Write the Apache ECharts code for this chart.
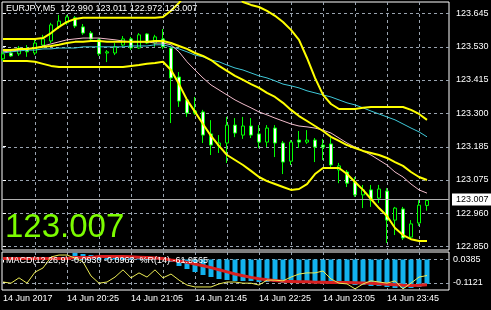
<!DOCTYPE html>
<html><head><meta charset="utf-8">
<script src="https://cdn.jsdelivr.net/npm/echarts@6/dist/echarts.min.js"></script>
<style>html,body{margin:0;padding:0;background:#000;}#c{width:491px;height:310px;}</style>
</head><body><div id="c"></div>
<script>
const symbolName = 'EURJPY,M5';
const timeLabels = ['14 Jun 2017','14 Jun 20:25','14 Jun 21:05','14 Jun 21:45','14 Jun 22:25','14 Jun 23:05','14 Jun 23:45'];
const timeLabelIndex = [0,8,16,24,32,40,48];
const vGridIndex = [4,8,12,16,20,24,28,32,36,40,44,48,52];

const open = [123.490,123.510,123.507,123.524,123.510,123.537,123.551,123.599,123.613,123.630,
 123.599,123.578,123.555,123.510,123.510,123.537,123.558,123.527,123.575,123.544,
 123.558,123.527,123.428,123.350,123.305,123.309,123.234,123.193,123.203,123.264,
 123.230,123.261,123.234,123.206,123.254,123.203,123.141,123.213,123.206,123.213,
 123.196,123.200,123.111,123.104,123.070,123.026,123.043,123.015,123.039,122.940,
 122.978,122.882,122.930,122.990];
const close = [123.507,123.500,123.527,123.514,123.544,123.558,123.606,123.619,123.633,123.602,
 123.578,123.558,123.507,123.514,123.531,123.558,123.527,123.572,123.544,123.565,
 123.531,123.425,123.346,123.305,123.312,123.230,123.196,123.203,123.264,123.237,
 123.261,123.230,123.206,123.254,123.203,123.138,123.206,123.206,123.213,123.189,
 123.189,123.128,123.125,123.066,123.026,123.043,123.008,123.046,122.940,122.981,
 122.879,122.927,122.991,123.007];
const low = [123.483,123.497,123.500,123.497,123.503,123.531,123.544,123.592,123.606,123.595,
 123.572,123.548,123.500,123.479,123.503,123.531,123.520,123.524,123.541,123.531,
 123.524,123.271,123.326,123.292,123.299,123.203,123.162,123.169,123.135,123.223,
 123.217,123.220,123.186,123.189,123.155,123.097,123.128,123.186,123.200,123.138,
 123.145,123.121,123.066,123.053,123.019,122.981,122.985,122.998,122.862,122.889,
 122.872,122.872,122.920,122.972];
const high = [123.517,123.517,123.534,123.537,123.555,123.572,123.613,123.640,123.640,123.636,
 123.609,123.585,123.561,123.520,123.544,123.568,123.565,123.578,123.578,123.572,
 123.592,123.531,123.445,123.360,123.360,123.316,123.281,123.230,123.292,123.288,
 123.292,123.288,123.264,123.264,123.264,123.210,123.213,123.244,123.247,123.220,
 123.217,123.220,123.135,123.111,123.087,123.060,123.060,123.060,123.049,122.985,
 122.985,122.940,123.008,123.011];

const bbUpper = [123.558,123.558,123.558,123.558,123.558,123.561,123.578,123.599,123.616,123.626,
 123.630,123.630,123.630,123.630,123.630,123.630,123.630,123.630,123.630,123.630,
 123.633,123.654,123.681,123.718,123.759,123.787,123.794,123.787,123.759,123.725,
 123.684,123.674,123.667,123.654,123.637,123.616,123.589,123.555,123.493,123.425,
 123.367,123.336,123.319,123.319,123.319,123.323,123.326,123.326,123.326,123.326,
 123.326,123.316,123.302,123.282];
const bbMiddle = [123.520,123.520,123.524,123.524,123.527,123.531,123.534,123.538,123.544,123.548,
 123.548,123.551,123.551,123.548,123.548,123.548,123.548,123.548,123.548,123.551,
 123.551,123.544,123.534,123.524,123.510,123.500,123.486,123.466,123.449,123.432,
 123.418,123.404,123.391,123.374,123.360,123.340,123.316,123.295,123.278,123.261,
 123.244,123.224,123.210,123.196,123.186,123.176,123.169,123.162,123.152,123.138,
 123.125,123.104,123.087,123.077];
const bbLower = [123.483,123.483,123.483,123.483,123.480,123.473,123.466,123.462,123.462,123.462,
 123.462,123.462,123.462,123.462,123.462,123.462,123.466,123.469,123.473,123.476,
 123.480,123.452,123.404,123.350,123.309,123.268,123.227,123.193,123.162,123.145,
 123.128,123.108,123.087,123.073,123.063,123.053,123.043,123.046,123.063,123.097,
 123.118,123.118,123.118,123.097,123.070,123.043,123.012,122.981,122.954,122.913,
 122.889,122.875,122.869,122.869];
const maSlow = [123.510,123.514,123.517,123.520,123.520,123.524,123.524,123.527,123.527,123.527,
 123.531,123.531,123.531,123.531,123.531,123.531,123.534,123.534,123.534,123.538,
 123.538,123.531,123.524,123.514,123.503,123.497,123.486,123.480,123.469,123.459,
 123.452,123.442,123.432,123.425,123.415,123.404,123.398,123.391,123.381,123.374,
 123.367,123.360,123.350,123.340,123.333,123.323,123.312,123.302,123.292,123.282,
 123.268,123.254,123.241,123.224];
const maFast = [123.514,123.517,123.520,123.524,123.527,123.534,123.541,123.548,123.555,123.558,
 123.561,123.561,123.561,123.558,123.555,123.551,123.548,123.548,123.548,123.544,
 123.544,123.538,123.514,123.480,123.452,123.425,123.401,123.384,123.367,123.350,
 123.336,123.323,123.309,123.299,123.288,123.278,123.268,123.261,123.258,123.254,
 123.247,123.237,123.220,123.203,123.189,123.176,123.162,123.145,123.128,123.104,
 123.087,123.063,123.043,123.032];

const macdMain = [0.001,0.001,0.001,0.002,0.002,0.003,0.004,0.005,0.006,0.025,
 0.021,0.017,0.013,0.010,0.008,0.008,0.007,0.008,0.007,0.006,
 0.004,-0.0095,-0.0247,-0.0361,-0.0475,-0.0589,-0.0665,-0.0741,-0.0779,-0.0817,
 -0.0817,-0.0817,-0.0855,-0.0855,-0.0855,-0.0893,-0.0855,-0.0855,-0.0855,-0.0855,
 -0.0893,-0.0893,-0.0893,-0.0931,-0.0969,-0.0969,-0.1007,-0.1007,-0.1045,-0.1083,
 -0.1083,-0.1083,-0.1045,-0.0930];
const macdSignal = [0.004,0.004,0.004,0.004,0.004,0.004,0.004,0.004,0.004,0.008,
 0.008,0.008,0.011,0.011,0.011,0.011,0.010,0.009,0.008,0.006,
 0.004,-0.002,-0.006,-0.011,-0.017,-0.024,-0.031,-0.039,-0.047,-0.055,
 -0.062,-0.068,-0.073,-0.077,-0.080,-0.083,-0.084,-0.085,-0.085,-0.086,
 -0.086,-0.087,-0.087,-0.087,-0.088,-0.089,-0.090,-0.092,-0.094,-0.096,
 -0.098,-0.099,-0.098,-0.0963];
const wpr = [-79,-82,-68,-82,-53,-42,-13,-8,-8,-16,
 -26,-63,-82,-79,-66,-47,-68,-55,-66,-47,
 -68,-58,-74,-87,-92,-92,-92,-84,-79,-79,
 -82,-82,-87,-74,-74,-76,-66,-58,-55,-55,
 -50,-71,-82,-84,-97,-84,-76,-79,-82,-76,
 -97,-82,-66,-61.9565];

const priceTickValues = [123.645,123.5314,123.4179,123.3043,123.1907,123.0771,122.9636,122.850];
const priceTickLabels = ['123.645','123.530','123.415','123.300','123.185','123.075','122.960','122.850'];
const subTickValues = [0,-0.0874];
const subTickLabels = ['0.0385','-0.1121'];

const FONT = 'Liberation Sans, Arial, sans-serif';
const GRIDC = '#9aa4b0';
const X_MIN = -0.125, X_MAX = 55.75;
const P_MIN = 122.838, P_MAX = 123.684;
const M_MIN = -0.1159, M_MAX = 0.0285;
const last = close.length - 1;
const pick = (vals, labs) => v => { let b = 0, d = Infinity; vals.forEach((x, k) => { const e = Math.abs(x - v); if (e < d) { d = e; b = k; } }); return labs[b]; };
const xy = arr => arr.map((v, i) => [i, v]);

const header = symbolName + '  ' + open[last].toFixed(3) + ' ' + high[last].toFixed(3) + ' ' + low[last].toFixed(3) + ' ' + close[last].toFixed(3);
const macdText = 'MACD(12,26,9) ' + macdMain[last].toFixed(4) + ' ' + macdSignal[last].toFixed(4) + '  %R(14) ' + wpr[last].toFixed(4);

// helper category axes (one step per pixel) whose split lines draw the dashed grid at the tick values
const W_STEPS = 447, H_MAIN = 248, H_SUB = 38;
const steps = n => Array.from({length: n + 1}, (_, j) => String(j));
const toStep = (v, lo, hi, n) => Math.round((v - lo) / (hi - lo) * n);
const vSet = new Set(vGridIndex.map(v => toStep(v, X_MIN, X_MAX, W_STEPS)));
const hMainSet = new Set(priceTickValues.map(v => toStep(v, P_MIN, P_MAX, H_MAIN)));
const hSubSet = new Set(subTickValues.map(v => toStep(v, M_MIN, M_MAX, H_SUB)));
const helperSplit = set => ({show: true, interval: (idx) => set.has(idx), lineStyle: {color: GRIDC, type: [3, 3], width: 1}});
const helperAxis = (type, gridIndex, n, set, extra) => Object.assign({
  type: 'category', gridIndex: gridIndex, data: steps(n), boundaryGap: false,
  axisLine: {show: false}, axisTick: {show: false}, axisLabel: {show: false},
  splitLine: helperSplit(set), z: 0
}, extra || {});

const chart = echarts.init(document.getElementById('c'), null, {renderer: 'canvas'});
const lineS = (data, color, width, z) => ({type: 'line', xAxisIndex: 0, yAxisIndex: 0, data: xy(data), showSymbol: false, symbol: 'none', silent: true, z: z, lineStyle: {color: color, width: width}, clip: true});

chart.setOption({
  animation: false,
  backgroundColor: '#000',
  textStyle: {fontFamily: FONT},
  title: [
    {text: header, left: 6, top: 4, padding: 0, z: 10, textStyle: {color: '#fff', fontSize: 9, fontWeight: 'normal', fontFamily: FONT}},
    {text: close[last].toFixed(3), left: 5, top: 211, padding: 0, z: 10, textStyle: {color: '#7cfc00', fontSize: 33, fontWeight: 'normal', fontFamily: FONT}},
    {text: macdText, left: 6, top: 256, padding: 0, z: 10, textStyle: {color: '#fff', fontSize: 9, fontWeight: 'normal', fontFamily: FONT}}
  ],
  grid: [
    {left: 2, top: 2, width: 447, height: 248, show: true, borderColor: '#fff', borderWidth: 1, backgroundColor: 'transparent', containLabel: false, outerBoundsMode: 'none'},
    {left: 2, top: 252, width: 447, height: 38, show: true, borderColor: '#fff', borderWidth: 1, backgroundColor: 'transparent', containLabel: false, outerBoundsMode: 'none'}
  ],
  xAxis: [
    {type: 'value', gridIndex: 0, min: X_MIN, max: X_MAX, show: false},
    {type: 'value', gridIndex: 1, min: X_MIN, max: X_MAX,
     axisLine: {show: false}, splitLine: {show: false},
     axisTick: {show: true, customValues: timeLabelIndex, length: 3, inside: false, lineStyle: {color: '#fff'}},
     axisLabel: {show: true, customValues: timeLabelIndex, formatter: pick(timeLabelIndex, timeLabels), align: 'left', color: '#fff', fontSize: 9, margin: 4, fontFamily: FONT}},
    helperAxis('x', 0, W_STEPS, vSet, {position: 'top'}),
    helperAxis('x', 1, W_STEPS, vSet, {position: 'top'})
  ],
  yAxis: [
    {type: 'value', gridIndex: 0, position: 'right', min: P_MIN, max: P_MAX, scale: true,
     axisLine: {show: false}, splitLine: {show: false},
     axisTick: {show: true, customValues: priceTickValues, length: 3, lineStyle: {color: '#fff'}},
     axisLabel: {show: true, customValues: priceTickValues, formatter: pick(priceTickValues, priceTickLabels), color: '#fff', fontSize: 9, margin: 7, fontFamily: FONT}},
    {type: 'value', gridIndex: 1, position: 'right', min: M_MIN, max: M_MAX,
     axisLine: {show: false}, splitLine: {show: false},
     axisTick: {show: true, customValues: subTickValues, length: 3, lineStyle: {color: '#fff'}},
     axisLabel: {show: true, customValues: subTickValues, formatter: pick(subTickValues, subTickLabels), color: '#fff', fontSize: 9, margin: 4, fontFamily: FONT}},
    {type: 'value', gridIndex: 1, min: -100, max: 0, show: false},
    helperAxis('y', 0, H_MAIN, hMainSet, {position: 'left'}),
    helperAxis('y', 1, H_SUB, hSubSet, {position: 'left'})
  ],
  series: [
    {type: 'candlestick', xAxisIndex: 0, yAxisIndex: 0, z: 3, silent: true, barWidth: 4,
     encode: {x: 0, y: [1, 2, 3, 4]},
     data: open.map((o, i) => [i, o, close[i], low[i], high[i]]),
     itemStyle: {color: '#000', color0: '#fff', borderColor: '#00ff00', borderColor0: '#00ff00', borderColorDoji: '#00ff00', borderWidth: 1},
     markLine: {silent: true, symbol: ['none', 'none'], animation: false,
       lineStyle: {color: '#b0b0b0', type: 'solid', width: 1},
       label: {show: true, position: 'end', distance: 3, formatter: close[last].toFixed(3), color: '#000', backgroundColor: '#fff', padding: [2, 3, 1, 4], fontSize: 9, fontFamily: FONT},
       data: [{yAxis: close[last]}]}},
    lineS(maSlow, '#3fc9d9', 1, 4),
    lineS(maFast, '#f2bccb', 1, 4),
    lineS(bbUpper, '#ffff00', 2, 5),
    lineS(bbMiddle, '#ffff00', 2, 5),
    lineS(bbLower, '#ffff00', 2, 5),
    {type: 'bar', xAxisIndex: 1, yAxisIndex: 1, data: xy(macdMain), barWidth: 5, silent: true, z: 2,
     itemStyle: {color: '#12b2ee'}},
    {type: 'line', xAxisIndex: 1, yAxisIndex: 1, data: xy(macdSignal), showSymbol: false, symbol: 'none', silent: true, z: 3,
     lineStyle: {color: '#d82020', width: 3}},
    {type: 'line', xAxisIndex: 1, yAxisIndex: 2, data: xy(wpr), showSymbol: false, symbol: 'none', silent: true, z: 4,
     lineStyle: {color: '#ecec55', width: 1}}
  ]
});
</script>
</body></html>
